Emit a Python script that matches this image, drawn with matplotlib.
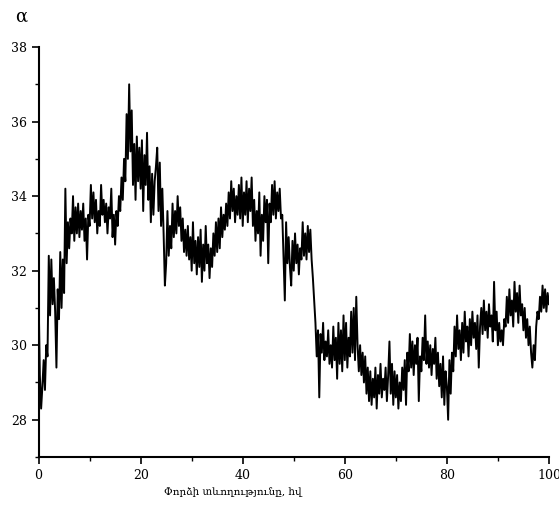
import numpy as np
import matplotlib
matplotlib.use("Agg")
import matplotlib.pyplot as plt
from matplotlib.ticker import MultipleLocator

# time axis (step 0.25)
x_start, x_step = 0.0, 0.25

alpha_vals = [
    31.4, 29.2, 28.3, 28.9, 29.6, 28.8, 30.0, 29.7, 32.4, 30.8, 32.3, 31.1, 31.8, 30.9, 29.4, 31.5, 30.7, 32.5, 31.0, 32.3,
    31.4, 34.2, 32.2, 33.3, 32.6, 33.4, 33.0, 34.0, 32.8, 33.7, 33.0, 33.8, 32.9, 33.6, 33.1, 33.8, 32.8, 33.4, 32.3, 33.5,
    33.2, 34.3, 33.4, 34.1, 33.3, 33.9, 33.0, 33.6, 33.2, 34.3, 33.5, 33.9, 33.3, 33.8, 33.0, 33.7, 33.4, 34.2, 32.9, 33.5,
    32.7, 33.6, 33.2, 34.0, 33.6, 34.5, 33.9, 35.0, 34.4, 36.2, 35.0, 37.0, 35.2, 36.3, 34.3, 35.4, 33.9, 35.6, 34.4, 35.3,
    34.2, 35.5, 33.6, 35.1, 34.3, 35.7, 33.9, 34.8, 33.3, 34.6, 33.5, 34.4, 34.8, 35.3, 33.6, 34.9, 33.2, 34.2, 33.0, 31.6,
    32.2, 33.6, 32.4, 33.2, 32.6, 33.8, 32.9, 33.6, 33.0, 34.0, 33.2, 33.7, 32.8, 33.4, 32.5, 33.1, 32.4, 33.2, 32.3, 32.9,
    32.0, 33.3, 32.2, 32.8, 31.9, 32.9, 32.1, 33.1, 31.7, 32.7, 32.0, 33.2, 32.2, 32.7, 31.8, 32.6, 32.1, 33.0, 32.4, 33.3,
    32.5, 33.4, 32.6, 33.7, 32.9, 33.5, 33.1, 33.8, 33.2, 34.1, 33.4, 34.4, 33.6, 34.2, 33.3, 34.0, 33.5, 34.3, 33.4, 34.5,
    33.2, 34.1, 33.5, 34.4, 33.3, 34.2, 33.6, 34.5, 33.2, 33.9, 32.8, 33.6, 33.0, 34.1, 32.4, 33.5, 32.8, 34.0, 33.3, 33.9,
    32.2, 33.8, 33.3, 34.3, 33.5, 34.4, 33.4, 34.1, 33.6, 34.2, 33.4, 33.5, 32.3, 31.2, 33.3, 32.2, 32.9, 32.1, 31.6, 32.8,
    32.0, 33.0, 32.2, 32.7, 31.9, 32.6, 32.3, 33.3, 32.4, 33.0, 32.3, 33.2, 32.5, 33.1, 32.3, 31.8, 31.2, 30.6, 29.7, 30.4,
    28.6, 30.3, 29.8, 30.6, 29.6, 30.1, 29.7, 30.4, 29.5, 30.0, 29.4, 30.5, 29.6, 30.2, 29.1, 30.6, 29.5, 30.4, 29.3, 30.8,
    29.6, 30.6, 29.4, 30.2, 29.7, 30.9, 29.8, 31.0, 29.6, 31.3, 30.0, 29.3, 30.0, 29.2, 29.8, 29.0, 29.7, 28.7, 29.4, 28.5,
    29.3, 28.4, 29.1, 28.6, 29.4, 28.3, 29.2, 28.7, 29.5, 28.6, 29.1, 28.8, 29.4, 28.5, 29.2, 30.1, 28.7, 29.5, 28.4, 29.3,
    28.6, 29.2, 28.3, 29.0, 28.5, 29.4, 28.8, 29.6, 28.4, 29.8, 29.3, 30.3, 29.4, 30.1, 29.2, 30.0, 29.5, 30.2, 28.5, 29.7,
    29.3, 30.2, 29.6, 30.8, 29.5, 30.1, 29.4, 30.0, 29.2, 29.9, 29.5, 30.2, 29.1, 29.8, 28.9, 29.5, 28.6, 29.7, 28.4, 29.3,
    28.9, 28.0, 29.6, 28.7, 29.8, 29.3, 30.5, 29.7, 30.8, 29.9, 30.4, 29.6, 30.6, 29.8, 30.9, 30.1, 30.5, 29.7, 30.7, 30.0,
    30.9, 30.2, 30.6, 29.9, 30.8, 29.4, 30.5, 31.0, 30.3, 31.2, 30.4, 30.9, 30.2, 31.1, 30.5, 30.8, 30.1, 31.7, 30.4, 30.9,
    30.0, 30.6, 30.1, 30.4, 30.0, 30.7, 30.5, 31.3, 30.6, 31.5, 30.8, 31.2, 30.5, 31.7, 30.9, 31.4, 30.6, 31.6, 30.8, 31.1,
    30.4, 31.0, 30.2, 30.7, 30.0, 30.5, 29.8, 29.4, 30.0, 29.6, 30.5, 30.9, 30.7, 31.3, 30.9, 31.6, 31.0, 31.5, 30.9, 31.4,
    31.1,
]

x_ticks = [0, 20, 40, 60, 80, 100]
y_ticks = [28, 30, 32, 34, 36, 38]
x_label = "Փորձի տևողությունը, հվ"
y_label = "α"

t = x_start + x_step * np.arange(len(alpha_vals))

fam = ["DejaVu Serif", "DejaVu Sans"]

fig = plt.figure(figsize=(5.59, 5.17), dpi=100)
ax = fig.add_axes([0.069, 0.116, 0.913, 0.793])
ax.plot(t, alpha_vals, color="black", lw=1.4)

ax.set_xlim(0, 100)
ax.set_ylim(27, 38)
ax.set_xticks(x_ticks)
ax.set_yticks(y_ticks)
ax.xaxis.set_minor_locator(MultipleLocator(10))
ax.yaxis.set_minor_locator(MultipleLocator(1))
for s in ["top", "right"]:
    ax.spines[s].set_visible(False)
for s in ["left", "bottom"]:
    ax.spines[s].set_linewidth(1.5)
ax.tick_params(which="major", direction="out", length=5, width=1.2, labelsize=9)
ax.tick_params(which="minor", direction="out", length=3, width=1.0)
for lab in ax.get_xticklabels() + ax.get_yticklabels():
    lab.set_family(fam)

ax.set_xlabel(x_label, family=fam, fontsize=7.5, labelpad=4)
ax.xaxis.label.set_x(0.38)
fig.text(0.027, 0.985, y_label, fontsize=13, family=fam, va="top", ha="left")

fig.savefig("out.png", dpi=100)
